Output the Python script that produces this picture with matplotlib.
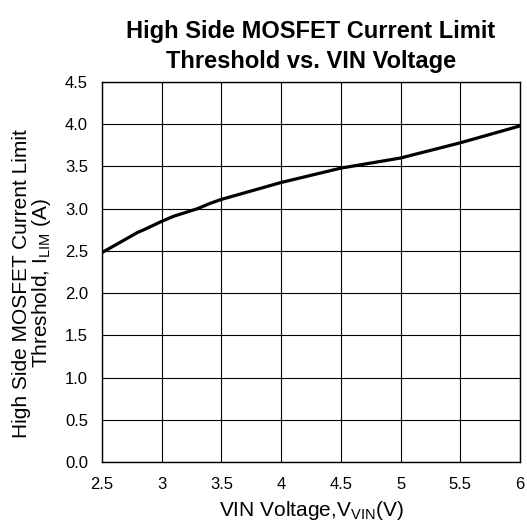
import matplotlib
matplotlib.use("Agg")
import matplotlib.pyplot as plt

plt.rcParams['font.family'] = ['Liberation Sans', 'DejaVu Sans']
plt.rcParams['mathtext.fontset'] = 'custom'
plt.rcParams['mathtext.rm'] = 'Liberation Sans'
plt.rcParams['mathtext.it'] = 'Liberation Sans'

vin = [2.5, 2.6, 2.65, 2.8, 2.85, 3.0, 3.1, 3.3, 3.4, 3.5, 4.0, 4.5, 5.0, 5.5, 6.0]
ilim = [2.48, 2.56, 2.60, 2.72, 2.75, 2.85, 2.91, 3.00, 3.06, 3.11, 3.31, 3.48, 3.60, 3.78, 3.98]

xticks = [2.5, 3, 3.5, 4, 4.5, 5, 5.5, 6]
xticklabels = ['2.5', '3', '3.5', '4', '4.5', '5', '5.5', '6']
yticks = [0.0, 0.5, 1.0, 1.5, 2.0, 2.5, 3.0, 3.5, 4.0, 4.5]
yticklabels = ['0.0', '0.5', '1.0', '1.5', '2.0', '2.5', '3.0', '3.5', '4.0', '4.5']

fig = plt.figure(figsize=(5.27, 5.25), dpi=100)
ax = fig.add_axes([102/527, 63/525, (520-102)/527, (462-82)/525])

ax.plot(vin, ilim, color='black', linewidth=2.3, solid_capstyle='butt')
ax.set_xlim(2.5, 6)
ax.set_ylim(0, 4.5)
ax.set_xticks(xticks)
ax.set_xticklabels(xticklabels)
ax.set_yticks(yticks)
ax.set_yticklabels(yticklabels)
ax.grid(True, color='black', linewidth=0.8)
ax.tick_params(axis='both', length=0, labelsize=12)
ax.tick_params(axis='x', pad=11)
ax.tick_params(axis='y', pad=10)
for s in ax.spines.values():
    s.set_linewidth(1.0)
    s.set_color('black')

ax.set_xlabel(r'VIN Voltage,V$_{\mathregular{VIN}}$(V)', fontsize=15, labelpad=5)
ax.set_ylabel('High Side MOSFET Current Limit\n' + r'Threshold, I$_{\mathregular{LIM}}$ (A)',
              fontsize=15, multialignment='center', linespacing=0.95)
ax.yaxis.set_label_coords(-0.118, 0.47)
ax.set_title('High Side MOSFET Current Limit\nThreshold vs. VIN Voltage',
             fontsize=17, fontweight='bold', pad=10, linespacing=1.4)

fig.savefig('out.png', dpi=100)
